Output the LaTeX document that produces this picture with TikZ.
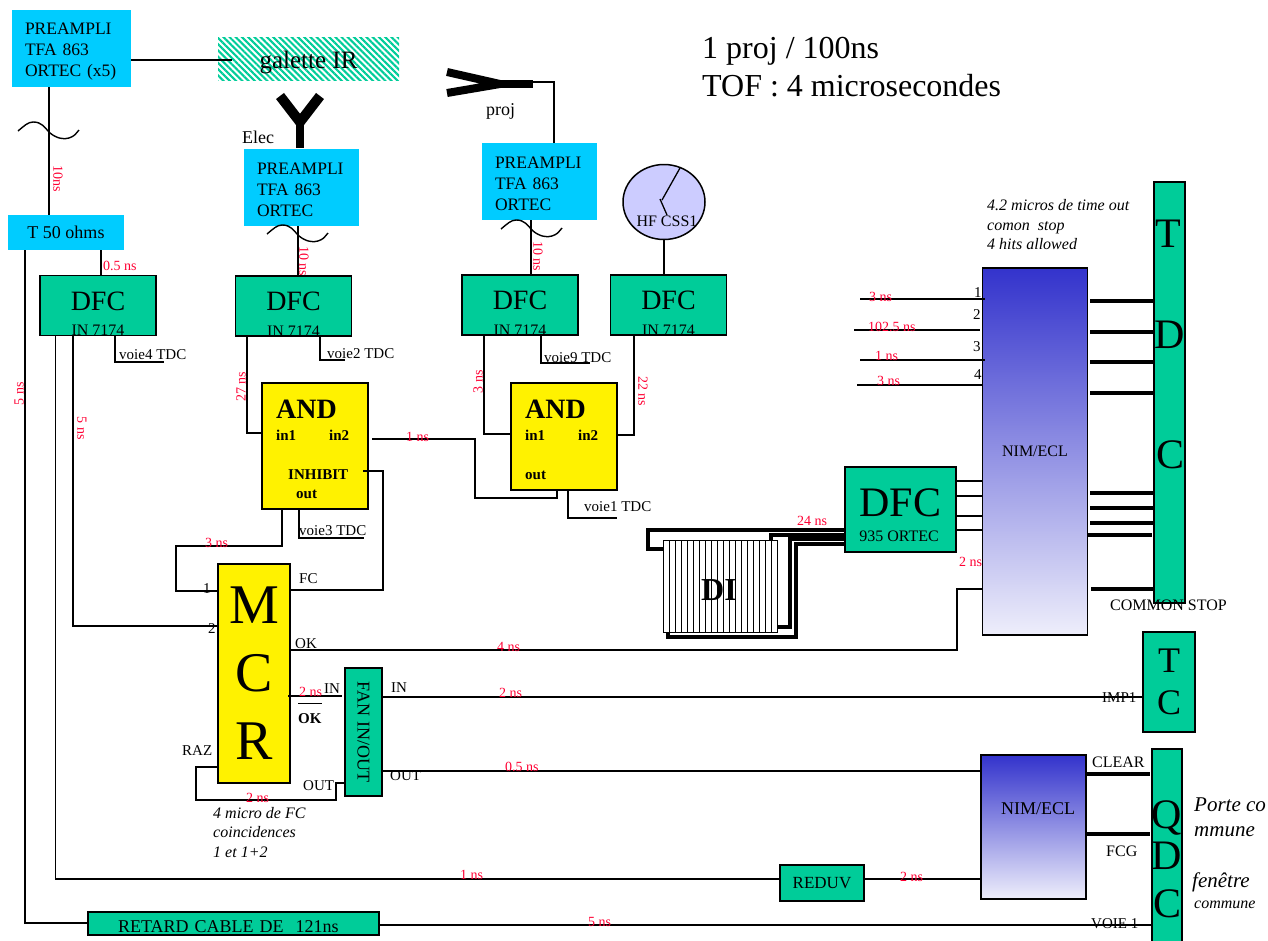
\documentclass[tikz,border=0pt]{standalone}
\usepackage{fontspec}
\setmainfont{Liberation Serif}
\usepackage{xcolor}
\usetikzlibrary{patterns.meta, shapes.geometric}
\definecolor{preblue}{HTML}{00CCFF}
\definecolor{boxgreen}{HTML}{00CC99}
\definecolor{labred}{HTML}{FF0033}
\definecolor{hflilac}{HTML}{CCCCFF}
\definecolor{nimtop}{HTML}{3333CC}
\definecolor{nimbot}{HTML}{EEEEFB}
\tikzset{
    box/.style={draw=black, line width=1.5pt, inner sep=0pt, outer sep=0pt},
    greenbox/.style={box, fill=boxgreen},
    yellowbox/.style={box, fill=yellow},
    nimbox/.style={box, top color=nimtop, bottom color=nimbot, shading angle=0},
    preampli/.style={fill=preblue, inner xsep=13pt, inner ysep=0pt, outer sep=0pt, minimum height=77pt, align=left, font=\fontsize{17.5}{21}\selectfont},
    dfcbox/.style={greenbox, minimum width=116pt, minimum height=60pt, text height=18.5pt, text depth=9.5pt, font=\fontsize{28}{30}\selectfont},
    lab/.style={anchor=base west, inner sep=0pt, font=\fontsize{15}{18}\selectfont},
    redlab/.style={anchor=base west, inner sep=0pt, text=labred, font=\fontsize{14}{16}\selectfont},
    redrot/.style={inner sep=0pt, text=labred, rotate=#1, font=\fontsize{14}{16}\selectfont},
    bitlab/.style={lab, font=\fontsize{15}{18}\bfseries\selectfont},
    itlab/.style={lab, font=\fontsize{15}{18}\itshape\selectfont},
    wire/.style={line width=1.3pt},
    buswire/.style={line width=4pt},
    cablewire/.style={line width=3.4pt},
    antenna/.style={line width=8pt},
    wiggle/.pic={\draw[line width=1.4pt] (0,0) .. controls (6,-5) and (10,-9) .. (15,-9) .. controls (24,-9) and (26,-4) .. (32,2) .. controls (38,7) and (46,9) .. (51,7) .. controls (56,5) .. (61,-1);},
}
\begin{document}
\begin{tikzpicture}[x=1pt, y=-1pt]
    \useasboundingbox (0,0) rectangle (1268,940);

    \node[preampli, text width=93pt] (preA) at (71.5,48.5) {\rule{0pt}{17pt}PREAMPLI\\TFA 863\\ORTEC (x5)};
    \node[preampli, text width=89pt] (preB) at (301.5,187.5) {\rule{0pt}{17pt}PREAMPLI\\TFA 863\\ORTEC};
    \node[preampli, text width=89pt] (preC) at (539.5,181.5) {\rule{0pt}{17pt}PREAMPLI\\TFA 863\\ORTEC};
    \node[fill=preblue, inner sep=0pt, minimum width=116pt, minimum height=35pt, font=\fontsize{18}{21}\selectfont] (tee) at (66,232.5) {T 50 ohms};
    \node[inner sep=0pt, minimum width=181pt, minimum height=43pt, pattern={Lines[angle=-45, distance=4.4pt, line width=2.1pt]}, pattern color=boxgreen, text height=19pt, text depth=0pt, font=\fontsize{25}{28}\selectfont] (galette) at (308.5,58.5) {galette IR};

    \node[dfcbox] (dfcA) at (98,305.5) {DFC};
    \node[dfcbox] (dfcB) at (293.5,306) {DFC};
    \node[dfcbox] (dfcC) at (520,305) {DFC};
    \node[dfcbox] (dfcD) at (668.5,305) {DFC};
    \foreach \n in {dfcA,dfcB,dfcC,dfcD}
        \node[anchor=base, inner sep=0pt, font=\fontsize{16}{18}\selectfont] (\n in) at (\n.south) {IN 7174};

    \node[draw=black, line width=1.5pt, fill=hflilac, ellipse, minimum width=82pt, minimum height=75pt, inner sep=0pt] (hf) at (664,202) {};
    \node[anchor=base, inner sep=0pt, font=\fontsize{16}{18}\selectfont] (hftxt) at (667,226) {HF CSS1};

    \node[yellowbox, minimum width=106pt, minimum height=126pt] (andA) at (315,446) {};
    \node[yellowbox, minimum width=106pt, minimum height=107pt] (andB) at (564,436.5) {};
    \node[anchor=base west, inner sep=0pt, font=\fontsize{28}{30}\bfseries\selectfont] (andAtxt) at (276,418) {AND};
    \node[anchor=base west, inner sep=0pt, font=\fontsize{28}{30}\bfseries\selectfont] (andBtxt) at (525,418) {AND};
    \node[bitlab] (inAa) at (276,440) {in1};
    \node[bitlab] (inAb) at (329,440) {in2};
    \node[bitlab] (inhib) at (288,479) {INHIBIT};
    \node[bitlab] (outA) at (296,498) {out};
    \node[bitlab] (inBa) at (525,440) {in1};
    \node[bitlab] (inBb) at (578,440) {in2};
    \node[bitlab] (outB) at (525,479) {out};

    \node[yellowbox, minimum width=72pt, minimum height=219pt, align=center, font=\fontsize{56}{68}\selectfont] (mcr) at (254,673.5) {M\\C\\R};
    \node[greenbox, minimum width=37pt, minimum height=128pt, font=\fontsize{18}{21}\selectfont] (fan) at (363.5,732) {\rotatebox{-90}{FAN IN/OUT}};
    \node[greenbox, minimum width=84pt, minimum height=36pt, font=\fontsize{17}{20}\selectfont] (reduv) at (822,883) {REDUV};
    \node[greenbox, minimum width=291pt, minimum height=23pt, text width=231pt, align=left, text height=18pt, text depth=0pt, font=\fontsize{18}{21}\selectfont] (retard) at (233.5,923.5) {RETARD CABLE DE \ 121ns};

    \node[nimbox, minimum width=105pt, minimum height=367pt, font=\fontsize{16}{18}\selectfont] (nimA) at (1035,451.5) {NIM/ECL};
    \node[nimbox, minimum width=105pt, minimum height=144pt] (nimB) at (1033.5,827) {};
    \node[anchor=base, inner sep=0pt, font=\fontsize{18}{20}\selectfont] (nimBtxt) at (1038,814) {NIM/ECL};

    \node[greenbox, minimum width=31pt, minimum height=421pt] (tdc) at (1169.5,392.5) {};
    \node[anchor=base, inner sep=0pt, font=\fontsize{42}{44}\selectfont] (tdcT) at (1168,247) {T};
    \node[anchor=base, inner sep=0pt, font=\fontsize{42}{44}\selectfont] (tdcD) at (1170,348) {D};
    \node[anchor=base, inner sep=0pt, font=\fontsize{42}{44}\selectfont] (tdcC) at (1170,468) {C};
    \node[greenbox, minimum width=52pt, minimum height=100pt, align=center, font=\fontsize{36}{42}\selectfont] (tc) at (1169,682) {T\\C};
    \node[greenbox, minimum width=30pt, minimum height=200pt] (qdc) at (1167,849) {};
    \node[anchor=base, inner sep=0pt, font=\fontsize{42}{44}\selectfont] (qdcQ) at (1167,828) {Q};
    \node[anchor=base, inner sep=0pt, font=\fontsize{42}{44}\selectfont] (qdcD) at (1167,869) {D};
    \node[anchor=base, inner sep=0pt, font=\fontsize{42}{44}\selectfont] (qdcC) at (1167,917) {C};

    \node[greenbox, minimum width=111pt, minimum height=85pt, text height=28pt, text depth=15pt, font=\fontsize{42}{44}\selectfont] (dfcE) at (900.5,509.5) {DFC};
    \node[anchor=base, inner sep=0pt, font=\fontsize{16}{18}\selectfont] (dfcEtxt) at (899,541) {935 ORTEC};

    % antennas and wavy cables
    \draw[antenna, line width=10pt] (280,96) -- (300,122) -- (320,96);
    \draw[antenna] (300,120) -- (300,148);
    \draw[antenna] (447,72) -- (500,84) -- (447,93);
    \draw[antenna] (495,84) -- (533,84);
    \pic at (18,131) {wiggle};
    \pic at (267,234) {wiggle};
    \pic at (501,229) {wiggle};
    \draw[wire] (680,168) -- (662,200);
    \draw[wire] (660,199) -- (667,215);

    % detector behind the cables
    \coordinate (cableA) at (648,530);
    \draw[cablewire] (dfcE.west |- 0,530) -- (cableA) |- (663,549);
    \draw[cablewire] (dfcE.west |- 0,535) -| (771,540);
    \draw[cablewire] (dfcE.west |- 0,539) -| (790,627) -- (777,627);
    \draw[cablewire] (dfcE.west |- 0,544) -| (796,637) -| (668,632);
    \node[draw=black, line width=1pt, fill=white, minimum width=114pt, minimum height=92pt, inner sep=0pt] (di) at (720,586) {};
    \foreach \i in {1,...,18}
        \draw[line width=0.7pt] (663+6*\i,540) -- (663+6*\i,632);
    \node[anchor=base, inner sep=0pt, font=\fontsize{32}{34}\bfseries\selectfont] (ditxt) at (719,600) {DI};

    \draw[wire] (preA.east |- 0,60) -- (232,60);
    \draw[wire] (preA.south -| 49,0) -- (tee.north -| 49,0);
    \draw[wire] (tee.south -| 101,0) -- (dfcA.north -| 101,0);
    \draw[wire] (533,82) -| (preC.north -| 554,0);
    \draw[wire] (preB.south -| 298,0) -- (dfcB.north -| 298,0);
    \draw[wire] (preC.south -| 531,0) -- (dfcC.north -| 531,0);
    \draw[wire] (hf.south) -- (dfcD.north -| hf.south);

    \draw[wire] (dfcA.south -| 115,0) |- (164,362);
    \draw[wire] (dfcB.south -| 320,0) |- (345,360);
    \draw[wire] (dfcC.south -| 541,0) |- (590,363);
    \draw[wire] (andB.south -| 568,0) |- (617,518);
    \draw[wire] (andA.south -| 299,0) |- (364,538);

    \draw[wire] (dfcB.south -| 247,0) |- (andA.west |- 0,433);
    \draw[wire] (dfcC.south -| 484,0) |- (andB.west |- 0,434);
    \draw[wire] (dfcD.south -| 634,0) |- (andB.east |- 0,435);
    \draw[wire] (372,439) -| (475,498) -| (andB.south -| 557,0);
    \draw[wire] (363,471) -| (383,590) -- (mcr.east |- 0,590);
    \draw[wire] (andA.south -| 282,0) |- (176,546) |- (mcr.west |- 0,591);
    \draw[wire] (dfcA.south -| 73,0) |- (mcr.west |- 0,626);
    \draw[wire] (dfcA.south -| 55.5,0) |- (reduv.west |- 0,879);
    \draw[wire] (tee.south -| 25,0) |- (retard.west |- 0,923);
    \draw[wire] (retard.east |- 0,925) -- (qdc.west |- 0,925);

    \draw[wire] (mcr.east |- 0,650) -| (957,589) -- (nimA.west |- 0,589);
    \draw[wire] (288,696) -- (342,696);
    \draw[wire] (fan.east |- 0,697) -- (tc.west |- 0,697);
    \draw[wire] (fan.east |- 0,771) -- (nimB.west |- 0,771);
    \draw[wire] (219,767) -| (196,800) -| (336,783) -- (fan.west |- 0,783);
    \draw[wire] (reduv.east |- 0,879) -- (nimB.west |- 0,879);

    \foreach \y in {481,496,516,530}
        \draw[wire] (dfcE.east |- 0,\y) -- (nimA.west |- 0,\y);
    \foreach \y/\xa/\xb in {299/860/985, 330/854/980, 360/860/985, 385/857/983}
        \draw[wire] (\xa,\y) -- (\xb,\y);
    \foreach \y/\xa/\xb in {301/1090/1154, 332/1090/1154, 362/1090/1154, 393/1090/1154, 493/1090/1154, 508/1090/1154, 523/1090/1154, 535/1087/1152, 589/1091/1154}
        \draw[buswire] (\xa,\y) -- (\xb,\y);
    \draw[buswire] (nimB.east |- 0,774) -- (1150,774);
    \draw[buswire] (nimB.east |- 0,834) -- (1150,834);

    \node[anchor=base west, inner sep=0pt, font=\fontsize{32}{34}\selectfont] (rateA) at (702,58) {1 proj / 100ns};
    \node[anchor=base west, inner sep=0pt, font=\fontsize{32}{34}\selectfont] (rateB) at (702,96) {TOF : 4 microsecondes};
    \node[lab, font=\fontsize{18}{20}\selectfont] (elec) at (242,143) {Elec};
    \node[lab, font=\fontsize{18}{20}\selectfont] (proj) at (486,115) {proj};

    \node[lab] (voie4) at (119,359) {voie4 TDC};
    \node[lab] (voie2) at (327,358) {voie2 TDC};
    \node[lab] (voie9) at (544,362) {voie9 TDC};
    \node[lab] (voie1) at (584,511) {voie1 TDC};
    \node[lab] (voie3) at (299,535) {voie3 TDC};

    \node[lab] (mcrOne) at (203,593) {1};
    \node[lab] (mcrTwo) at (208,633) {2};
    \node[lab] (fc) at (299,583) {FC};
    \node[lab] (okA) at (295,648) {OK};
    \node[lab] (inL) at (324,693) {IN};
    \node[lab] (inR) at (391,692) {IN};
    \node[lab] (raz) at (182,755) {RAZ};
    \node[lab] (outL) at (303,790) {OUT};
    \node[lab] (outR) at (390,780) {OUT};
    \node[bitlab] (okB) at (298,723) {$\overline{\raisebox{0pt}[18pt]{\textbf{OK}}}$};
    \node[itlab, align=left, anchor=north west, font=\fontsize{16}{19.5}\itshape\selectfont] (micro) at (213,807) {4 micro de FC\\coincidences\\1 et 1+2};
    \node[itlab, align=left, anchor=north west, font=\fontsize{16}{19.5}\itshape\selectfont] (timeout) at (987,199.5) {4.2 micros de time out\\comon \ stop\\4 hits allowed};

    \node[lab] (chOne) at (974,297) {1};
    \node[lab] (chTwo) at (973,319) {2};
    \node[lab] (chThree) at (973,351) {3};
    \node[lab] (chFour) at (974,379) {4};
    \node[lab, font=\fontsize{16}{18}\selectfont] (comstop) at (1110,610) {COMMON STOP};
    \node[lab] (imp) at (1102,702) {IMP1};
    \node[lab, font=\fontsize{16}{18}\selectfont] (clear) at (1092,767) {CLEAR};
    \node[lab, font=\fontsize{16}{18}\selectfont] (fcg) at (1106,856) {FCG};
    \node[lab] (voieQ) at (1091,928) {VOIE 1};
    \node[itlab, font=\fontsize{21}{24}\itshape\selectfont] (porteA) at (1194,811) {Porte co};
    \node[itlab, font=\fontsize{21}{24}\itshape\selectfont] (porteB) at (1194,836) {mmune};
    \node[itlab, font=\fontsize{21}{24}\itshape\selectfont] (fenA) at (1192,887) {fenêtre};
    \node[itlab, font=\fontsize{16}{18}\itshape\selectfont] (fenB) at (1194,908) {commune};

    \node[redrot=-90] (tA) at (58,179) {10ns};
    \node[redrot=-90] (tB) at (304,261) {10 ns};
    \node[redrot=-90] (tC) at (538,256) {10 ns};
    \node[redrot=-90] (tD) at (643,391) {22 ns};
    \node[redrot=90] (tE) at (241,387) {27 ns};
    \node[redrot=90] (tF) at (478,382) {3 ns};
    \node[redrot=-90] (tG) at (82,428) {5 ns};
    \node[redrot=90] (tH) at (19,394) {5 ns};
    \node[redlab] (dA) at (103,270) {0.5 ns};
    \node[redlab] (dB) at (406,441) {1 ns};
    \node[redlab] (dC) at (205,547) {3 ns};
    \node[redlab] (dD) at (299,696) {2 ns};
    \node[redlab] (dE) at (246,802) {2 ns};
    \node[redlab] (dF) at (497,651) {4 ns};
    \node[redlab] (dG) at (499,697) {2 ns};
    \node[redlab] (dH) at (505,771) {0.5 ns};
    \node[redlab] (dI) at (460,879) {1 ns};
    \node[redlab] (dJ) at (900,881) {2 ns};
    \node[redlab] (dK) at (588,926) {5 ns};
    \node[redlab] (dL) at (797,525) {24 ns};
    \node[redlab] (dM) at (959,566) {2 ns};
    \node[redlab] (dN) at (869,301) {3 ns};
    \node[redlab] (dO) at (868,331) {102.5 ns};
    \node[redlab] (dP) at (875,360) {1 ns};
    \node[redlab] (dQ) at (877,385) {3 ns};
\end{tikzpicture}
\end{document}
